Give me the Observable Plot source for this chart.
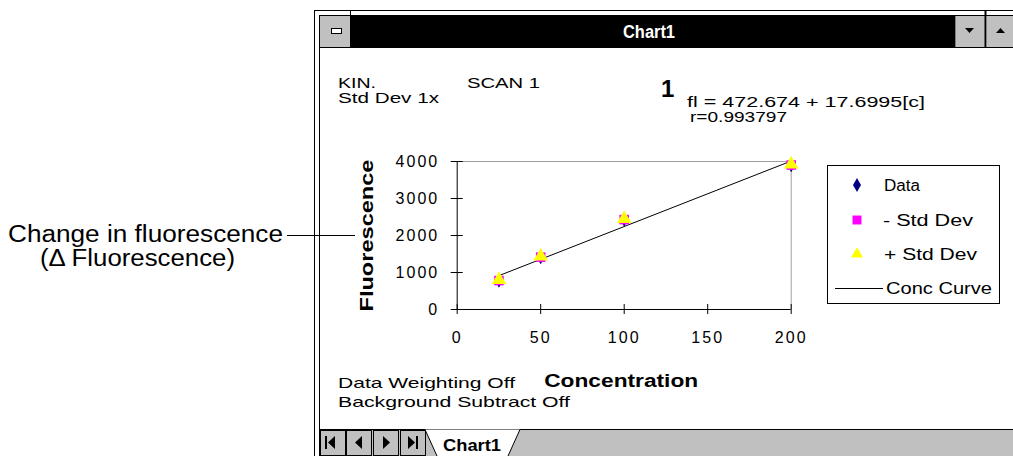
<!DOCTYPE html>
<html><head><meta charset="utf-8">
<script src="https://cdn.jsdelivr.net/npm/d3@7"></script>
<script src="https://cdn.jsdelivr.net/npm/@observablehq/plot@0.6"></script>
<style>
html,body{margin:0;padding:0;background:#fff;width:1013px;height:456px;overflow:hidden;font-family:"Liberation Sans",Arial,sans-serif}
#stage{position:relative;width:1013px;height:456px}
#stage svg{position:absolute}
</style></head><body><div id="stage"></div>
<script>
// ---- data ----
const concentration = [25, 50, 100, 200];
const fluorescence = [792, 1425, 2440, 3915];
const minusStdDev = [782, 1415, 2430, 3905];
const plusStdDev = [802, 1435, 2450, 3925];
const curveConc = [25, 200];
const curveFl = [915, 4013];
const xTicks = [0, 50, 100, 150, 200];
const yTicks = [0, 1000, 2000, 3000, 4000];
const legendLabels = ["Data", "- Std Dev", "+ Std Dev", "Conc Curve"];
const seriesColors = ["#000080", "#ff00ff", "#ffff00", "#000000"];
const headerLeft = ["KIN.", "Std Dev 1x"];
const scanLabel = "SCAN 1";
const curveNumber = "1";
const equation = "fl = 472.674 + 17.6995[c]";
const rValue = "r=0.993797";
const footer = ["Data Weighting Off", "Background Subtract Off"];
const xLabel = "Concentration";
const yLabel = "Fluorescence";
const windowTitle = "Chart1";
const tabLabel = "Chart1";
const annotation = ["Change in fluorescence", "(\u0394 Fluorescence)"];

// ---- build tables ----
const points = concentration.map((c, i) => ({c, data: fluorescence[i], minus: minusStdDev[i], plus: plusStdDev[i]}));
const curve = curveConc.map((c, i) => ({c, fl: curveFl[i]}));

const W = 1013, H = 456;
const stage = d3.select("#stage");
const g = stage.append("svg").attr("width", W).attr("height", H).style("left", 0).style("top", 0)
  .attr("font-family", "Liberation Sans, Arial, sans-serif");

function txt(s, x, y, o = {}) {
  const t = g.append("text").attr("x", x).attr("y", y).text(s)
    .attr("font-size", o.size || 15).attr("fill", o.fill || "#000");
  if (o.bold) t.attr("font-weight", "bold");
  if (o.len) t.attr("textLength", o.len).attr("lengthAdjust", "spacingAndGlyphs");
  if (o.anchor) t.attr("text-anchor", o.anchor);
  return t;
}
function line(x1, y1, x2, y2, c = "#000", w = 1) {
  g.append("line").attr("x1", x1).attr("y1", y1).attr("x2", x2).attr("y2", y2).attr("stroke", c).attr("stroke-width", w);
}
function rect(x, y, w, h, fill, stroke) {
  g.append("rect").attr("x", x).attr("y", y).attr("width", w).attr("height", h).attr("fill", fill).attr("stroke", stroke || "none");
}

// ---- window chrome ----
line(314.5, 10, 314.5, H);
line(319.5, 15, 319.5, H);
line(314, 10.5, W, 10.5);
line(319, 15.5, W, 15.5);
rect(320, 16, 30, 31, "#c0c0c0");
line(350.5, 10, 350.5, 47);
rect(331.5, 28.5, 10, 5, "#fff", "#000");
rect(351, 16, 604, 31, "#000");
txt(windowTitle, 649, 38, {fill: "#fff", bold: true, anchor: "middle", size: 18, len: 52});
rect(955, 16, 30, 31, "#c0c0c0");
line(955.5, 16, 955.5, 47, "#808080");
line(985.5, 10, 985.5, 47, "#000", 2);
rect(987, 16, 26, 31, "#c0c0c0");
g.append("path").attr("d", "M965,28h9l-4.5,5z").attr("fill", "#000");
g.append("path").attr("d", "M996,33h9l-4.5,-5z").attr("fill", "#000");
line(319, 47.5, W, 47.5);

// tab bar
rect(320, 429, W - 320, 27, "#c0c0c0");
line(319, 429.5, W, 429.5);
const btnX = [320, 346, 373, 400];
btnX.forEach((x) => rect(x + 0.5, 430.5, 25, 25, "#c0c0c0", "#000"));
g.append("path").attr("d", "M325,436v13h2v-13z M335,436v13l-7,-6.5z").attr("fill", "#000");
g.append("path").attr("d", "M362,436v13l-7,-6.5z").attr("fill", "#000");
g.append("path").attr("d", "M383,436v13l7,-6.5z").attr("fill", "#000");
g.append("path").attr("d", "M408,436v13l7,-6.5z M416,436v13h2v-13z").attr("fill", "#000");
g.append("path").attr("d", "M425,429.5L437,456H508L520,429.5Z").attr("fill", "#fff");
g.append("path").attr("d", "M425,429.5L437,456 M508,456L520,429.5").attr("stroke", "#000").attr("fill", "none");
txt(tabLabel, 443, 451, {bold: true, size: 17, len: 58});

// ---- header / footer texts ----
txt(headerLeft[0], 338, 88, {size: 14, len: 38});
txt(headerLeft[1], 338, 103, {size: 14, len: 101});
txt(scanLabel, 467, 88, {size: 14, len: 73});
txt(curveNumber, 661, 97, {bold: true, size: 24});
txt(equation, 687, 107, {size: 14, len: 238});
txt(rValue, 690, 122, {size: 14, len: 97});
txt(footer[0], 338, 388, {len: 177});
txt(footer[1], 338, 407, {len: 232});

// ---- legend ----
rect(827.5, 165.5, 172, 138, "#fff", "#000");
const legY = [185, 220, 254, 288];
const sym = [d3.symbolDiamond, d3.symbolSquare, d3.symbolTriangle];
const symSize = [55, 80, 60];
for (let i = 0; i < 3; i++) {
  g.append("path").attr("transform", `translate(857,${legY[i]})`)
    .attr("d", d3.symbol(sym[i], symSize[i])()).attr("fill", seriesColors[i]);
}
line(835, legY[3] + 0.5, 883, legY[3] + 0.5, seriesColors[3]);
const legLen = [36, 90, 93, 106];
const legX = [884, 883, 884, 886];
legendLabels.forEach((s, i) => txt(s, legX[i], legY[i] + 6, {size: 16, len: legLen[i]}));

// ---- left annotation ----
txt(annotation[0], 8, 242, {size: 23, len: 275});
txt(annotation[1], 40, 266, {size: 23, len: 195});
line(287, 235.5, 355, 235.5);

// ---- chart ----
const chart = Plot.plot({
  width: 480, height: 240,
  marginLeft: 126.7, marginRight: 19.3, marginTop: 21, marginBottom: 71,
  style: {background: "transparent", fontFamily: "Liberation Sans, Arial, sans-serif", fontSize: "16px", letterSpacing: "2px", color: "#000", overflow: "visible"},
  x: {domain: [0, 200]},
  y: {domain: [0, 4000]},
  marks: [
    Plot.ruleY([4000], {stroke: "#a0a0a0"}),
    Plot.ruleX([200], {stroke: "#a0a0a0"}),
    Plot.ruleX([0], {stroke: "#000"}),
    Plot.ruleY([0], {stroke: "#000"}),
    Plot.ruleY(yTicks, {y: d => d, x1: 0, x2: 0, insetLeft: -6, insetRight: -6, stroke: "#000"}),
    Plot.ruleX(xTicks, {x: d => d, y1: 0, y2: 0, insetTop: -5, insetBottom: -5, stroke: "#000"}),
    Plot.axisX(xTicks, {tickSize: 0, tickPadding: 22, label: null, tickFormat: d => String(d), fill: "#000"}),
    Plot.axisY(yTicks, {tickSize: 0, tickPadding: 18, label: null, tickFormat: d => String(d), fill: "#000"}),
    Plot.line(curve, {x: "c", y: "fl", stroke: seriesColors[3], strokeWidth: 1}),
    Plot.dot(points, {x: "c", y: "data", symbol: "diamond", r: 4.6, fill: seriesColors[0], stroke: "none"}),
    Plot.dot(points, {x: "c", y: "minus", symbol: "square", r: 5.4, fill: seriesColors[1], stroke: "none"}),
    Plot.dot(points, {x: "c", y: "plus", symbol: "triangle", r: 5.4, fill: seriesColors[2], stroke: "none"}),
    Plot.text([xLabel], {text: d => d, frameAnchor: "bottom", dx: -3, dy: 77, fontWeight: "bold", fontSize: 18, className: "xlab"}),
    Plot.text([yLabel], {text: d => d, frameAnchor: "left", textAnchor: "middle", dx: -90, rotate: -90, fontWeight: "bold", fontSize: 18, className: "ylab"})
  ]
});
d3.select(chart).style("left", "330px").style("top", "140px");
d3.select(chart).selectAll(".xlab text").style("letter-spacing", "0px").attr("textLength", 154).attr("lengthAdjust", "spacingAndGlyphs");
d3.select(chart).selectAll(".ylab text").style("letter-spacing", "0px").attr("textLength", 152).attr("lengthAdjust", "spacingAndGlyphs");
stage.node().appendChild(chart);
</script></body></html>
